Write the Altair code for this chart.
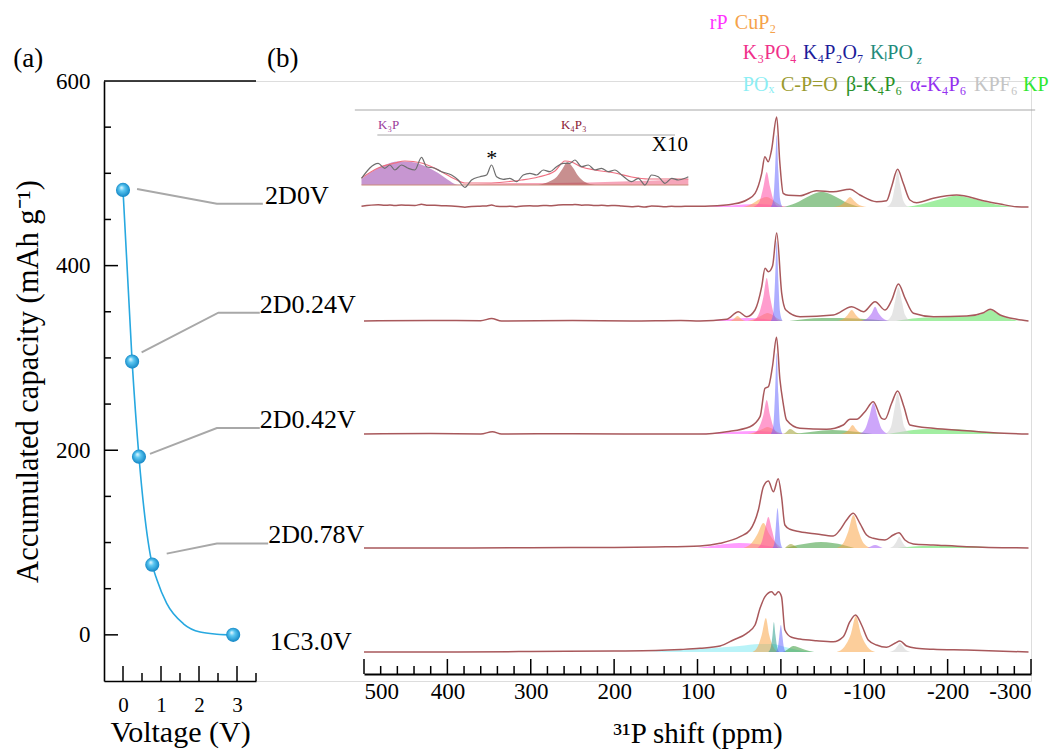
import altair as alt
import pandas as pd

FONT = "Liberation Serif"

# ---------------- panel (a): accumulated capacity vs voltage ----------------
point_voltage = [0.0, 0.24, 0.42, 0.77, 2.9]
point_capacity = [482, 296, 193, 76, 0]
curve_voltage = [0.0, 0.24, 0.42, 0.77, 0.89, 1.15, 1.59, 2.03, 2.47, 2.9]
curve_capacity = [482, 296, 193, 76, 60, 34, 12, 3, 0.7, 0]

sample_labels = ["2D0V", "2D0.24V", "2D0.42V", "2D0.78V", "1C3.0V"]
label_voltage = [3.74, 3.6, 3.6, 3.82, 3.87]
label_capacity = [467, 349, 224, 99, -16]

leader_voltage = [[0.37, 2.47, 3.68], [0.49, 2.51, 3.6], [0.71, 2.47, 3.6], [1.15, 2.47, 3.82]]
leader_capacity = [[483, 467, 467], [306, 349, 349], [196, 224, 224], [88, 99, 99]]

xa_major = [0, 1, 2, 3]
xa_minor = [0.5, 1.5, 2.5, 3.5]
ya_major = [0, 200, 400]
ya_minor = [50, 100, 150, 250, 300, 350, 450, 500, 550]

# ---------------- panel (b): 31P NMR spectra ----------------
spectrum_names = ["2D0V", "2D0.24V", "2D0.42V", "2D0.78V", "1C3.0V"]
spectrum_offset = [467, 353, 240, 126, 22]
inset_offset = 489

# X10 inset (2D0V, 500-110 ppm), experimental trace
inset_ppm = [503, 483, 475, 469, 463, 455, 447, 439, 431, 425, 415, 407, 395, 387, 379, 371,
             361, 353, 347, 341, 333, 325, 317, 309, 301, 293, 285, 277, 269, 261, 253, 247,
             239, 231, 223, 215, 207, 199, 191, 179, 171, 163, 155, 147, 139, 131, 123, 115, 111]
inset_int = [6.7, 21.7, 16.7, 20, 15, 20, 16.7, 15, 27.7, 18.3, 16.7, 13.3, 10, 5, -2.3, 5,
             8.3, 10, 20, 8.3, 5.7, 6.7, 3.3, 10, 11.7, 10, 15, 13.3, 18.3, 21.7, 21.7, 25,
             18.3, 20, 15, 16.7, 13.3, 15, 10, 3.3, 6.7, 0, 10, 8.3, 1.7, 6.7, 5, 6.7, 8.3]
# inset fit envelope
inset_fit_ppm = [503, 483, 463, 451, 431, 411, 391, 379, 351, 331, 311, 291, 271, 259, 251, 239,
                 223, 199, 179, 159, 131, 111]
inset_fit_int = [7, 17, 22, 24, 22, 15, 6, 2, 2, 3, 5, 8, 14, 24, 23, 18, 15, 12, 8, 6, 6, 6]

# main envelopes (ppm, intensity above baseline)
env_ppm = {
    "2D0V": [97, 85, 57, 41, 31, 23, 19.2, 15.2, 11.2, 5, 1.2, -2.8, -8.8, -22.8, -42.8, -62.8,
             -82.8, -94.8, -114.8, -126.8, -132.8, -140, -146.8, -154.8, -162.8, -182.8,
             -210.8, -242.8, -262.8, -282.8, -297],
    "2D0.24V": [500, 420, 360, 347, 335, 250, 180, 120, 97, 65, 51, 41, 31, 23, 19, 15, 10, 5,
                -1, -6, -23, -63, -85, -99, -113, -125, -133, -141, -149, -159, -183, -223,
                -243, -251, -263, -283, -297],
    "2D0.42V": [500, 420, 360, 346, 335, 250, 150, 97, 65, 37, 25, 19, 15, 10, 5.2, 1.2, -2.8,
                -6.8, -22.8, -54.8, -74.8, -82.8, -90.8, -100.8, -110.8, -120.8, -124.8,
                -132.8, -140, -147.6, -154.8, -182.8, -222.8, -254.8, -297],
    "2D0.78V": [500, 400, 300, 200, 150, 97, 73, 49, 37, 27, 21, 15, 9, 3.2, -0.8, -4.8,
                -10.8, -22.8, -42.8, -62.8, -70.8, -78.8, -86.8, -94.8, -102.8, -110.8,
                -124.8, -134.8, -141.6, -148.8, -158.8, -182.8, -222.8, -297],
    "1C3.0V": [500, 400, 300, 200, 150, 120, 97, 73, 57, 41, 31, 25, 19, 11, 7, 3, -0.8,
               -4.8, -12.8, -22.8, -42.8, -62.8, -74.8, -82.8, -89.6, -96.8, -104.8, -114.8,
               -126.8, -136.8, -142.8, -150.8, -162.8, -182.8, -222.8, -297],
}
env_int = {
    "2D0V": [0.8, 1, 3, 7, 13.7, 33.7, 50.3, 45.3, 57, 90, 43.7, 13.7, 11.7, 11.3, 16.3, 15.3,
             17.7, 12, 5.3, 6.3, 20.3, 37.7, 23.7, 7, 4.3, 8.7, 12, 6.3, 3, 0.3, 0],
    "2D0.24V": [0, 0.5, 0.3, 2.5, 0, 0.5, 0, 0.5, 0, 1.7, 9.3, 4.3, 11, 34.3, 52.7, 49.3, 55,
                88, 27.7, 11, 4.3, 6, 14.3, 9.3, 19.3, 11, 21, 37, 22.7, 7.7, 4.3, 5, 8.3,
                11.7, 6, 1.7, 0],
    "2D0.42V": [0, 0.4, 0, 2.3, 0, 0.3, 0, 0, 2.3, 7.3, 17.3, 45.7, 47.3, 68, 96.7, 55, 30.7,
                14, 5.7, 4.7, 9, 14.7, 14.7, 22.3, 32.3, 15.7, 14.7, 30.7, 43, 27.3, 9, 5.7,
                3.3, 1.3, 0],
    "2D0.78V": [0, 0, 0.3, 0.5, 1, 2, 4.7, 11.3, 18, 38, 61.3, 67, 56.3, 69.3, 51.3, 23, 18.7,
                16.3, 14, 12, 18, 28, 34.7, 24.7, 13, 9.7, 8, 13, 15.3, 8, 4, 3, 1.3, 0],
    "1C3.0V": [0, 0, 0.5, 1, 1.5, 2.5, 3.7, 6, 12, 18.7, 27, 43.7, 55.3, 60.3, 57, 60.3, 55.3,
               22, 14.7, 13, 11.3, 10.3, 15.3, 30.3, 37, 27, 12, 7, 4.7, 8.7, 11, 6, 3.7,
               2.7, 2, 0],
}

# fitted components: (spectrum, species, ppm list, intensity list)
components = [
    ("2D0V", "rP", [100, 60, 30, 10, -10], [0, 1.5, 3, 2, 0]),
    ("2D0V", "CuP2", [45, 35, 25, 17, 10, 3, -5], [0, 3, 8, 10, 7, 3, 0]),
    ("2D0V", "beta", [-3, -18, -34, -49, -64, -80, -95], [0, 4, 11, 15.3, 11, 4, 0]),
    ("2D0V", "CuP2", [-63, -72, -78, -83, -88, -94, -103], [0, 2, 6, 10, 6, 2, 0]),
    ("2D0V", "KP", [-150, -170, -192, -211, -232, -255, -280], [0, 3, 8, 11.3, 8, 3, 0]),
    ("2D0V", "K3PO4", [33, 26, 21, 17, 13, 8, 3], [0, 5, 20, 35, 20, 5, 0]),
    ("2D0V", "K4P2O7", [12, 9, 7, 5, 3, 1, -2], [0, 8, 36, 72, 36, 8, 0]),
    ("2D0V", "KPF6", [-127, -133, -137, -140, -143, -147, -153], [0, 6, 22, 36, 22, 6, 0]),

    ("2D0.24V", "rP", [100, 70, 40, 20, 0], [0, 1.5, 3, 2, 0]),
    ("2D0.24V", "CuP2", [62, 57, 54, 52, 50, 47, 42], [0, 1.5, 4, 5, 4, 1.5, 0]),
    ("2D0.24V", "CuP2", [40, 30, 22, 16, 10, 4, -2], [0, 2.5, 6, 8, 6, 2.5, 0]),
    ("2D0.24V", "beta", [-10, -30, -50, -70, -90, -110, -130], [0, 2, 3, 3, 2.5, 1.5, 0]),
    ("2D0.24V", "KP", [-138, -165, -200, -230, -244, -251, -258, -268, -285],
     [0, 3, 4, 5, 8, 11, 8, 4, 0]),
    ("2D0.24V", "CuP2", [-68, -75, -80, -85, -90, -95, -102], [0, 2, 6, 11, 6, 2, 0]),
    ("2D0.24V", "alpha", [-96, -104, -109, -113, -117, -122, -130], [0, 3, 8, 14.3, 8, 3, 0]),
    ("2D0.24V", "K3PO4", [34, 27, 21, 17, 13, 8, 3], [0, 6, 24, 43, 24, 6, 0]),
    ("2D0.24V", "K4P2O7", [12, 9, 7, 5, 3, 1, -2], [0, 9, 40, 80, 40, 9, 0]),
    ("2D0.24V", "KPF6", [-126, -133, -137, -141, -145, -149, -156], [0, 6, 20, 34, 20, 6, 0]),

    ("2D0.42V", "rP", [100, 60, 30, 10, -5], [0, 2, 3, 2, 0]),
    ("2D0.42V", "CuP2", [40, 30, 22, 16, 10, 4, -2], [0, 2, 5, 7, 5, 2, 0]),
    ("2D0.42V", "beta", [-15, -35, -50, -62, -75, -92, -110], [0, 2, 3.5, 4, 3.5, 2, 0]),
    ("2D0.42V", "KP", [-128, -150, -175, -205, -235, -260, -280], [0, 3, 5, 5, 3, 1, 0]),
    ("2D0.42V", "CPO", [-2, -6, -9, -11, -14, -18, -24], [0, 1.5, 4, 5, 4, 1.5, 0]),
    ("2D0.42V", "CuP2", [-72, -78, -82, -86, -90, -94, -100], [0, 2, 5, 9, 5, 2, 0]),
    ("2D0.42V", "alpha", [-94, -101, -106, -111, -116, -121, -129], [0, 5, 17, 31, 17, 5, 0]),
    ("2D0.42V", "K3PO4", [33, 27, 21, 17, 13, 8, 3], [0, 5, 19, 34, 19, 5, 0]),
    ("2D0.42V", "K4P2O7", [12, 9, 7, 5, 3, 1, -2], [0, 9, 40, 81, 40, 9, 0]),
    ("2D0.42V", "KPF6", [-125, -132, -136, -140, -144, -148, -156], [0, 7, 24, 41, 24, 7, 0]),

    ("2D0.78V", "rP", [100, 75, 50, 30, 15, 0], [0, 3, 5, 4, 2, 0]),
    ("2D0.78V", "beta", [-5, -20, -35, -48, -62, -75, -88], [0, 3, 5, 6, 5, 3, 0]),
    ("2D0.78V", "KP", [-140, -170, -210, -250, -280], [0, 2, 2, 1, 0]),
    ("2D0.78V", "CPO", [-5, -9, -12, -15, -20], [0, 3, 4, 3, 0]),
    ("2D0.78V", "CuP2", [45, 35, 28, 21, 14, 6, -1], [0, 5, 14, 25, 14, 5, 0]),
    ("2D0.78V", "K3PO4", [28, 23, 19, 15, 11, 7, 3], [0, 6, 19, 31, 19, 6, 0]),
    ("2D0.78V", "K4P2O7", [10, 7.5, 6, 4, 2, 0.5, -2], [0, 6, 22, 40, 22, 6, 0]),
    ("2D0.78V", "CuP2", [-67, -75, -81, -87, -93, -99, -108], [0, 5, 17, 33, 17, 5, 0]),
    ("2D0.78V", "alpha", [-104, -109, -113, -117, -122], [0, 2, 3, 2, 0]),
    ("2D0.78V", "KPF6", [-130, -135, -139, -142, -145, -149, -155], [0, 2, 7, 11.3, 7, 2, 0]),

    ("1C3.0V", "POx", [160, 120, 80, 50, 25, 10, -5, -20, -40], [0, 2, 4, 6, 8, 8, 5, 2, 0]),
    ("1C3.0V", "beta", [-2, -8, -12, -15, -20, -28, -40], [0, 2.5, 5, 6, 5, 2.5, 0]),
    ("1C3.0V", "CuP2", [34, 28, 23, 18, 14, 9, 3], [0, 5, 17, 34, 17, 5, 0]),
    ("1C3.0V", "KlPOz", [15, 12, 10, 8.4, 6.5, 4.5, 2], [0, 5, 17, 30, 17, 5, 0]),
    ("1C3.0V", "K4P2O7", [6, 3.5, 2, 0, -2, -3.5, -6], [0, 5, 15, 27, 15, 5, 0]),
    ("1C3.0V", "CuP2", [-67, -76, -84, -90, -96, -104, -113], [0, 5, 18, 36, 18, 5, 0]),
    ("1C3.0V", "KPF6", [-130, -136, -140, -143, -146, -150, -156], [0, 2, 6, 9, 6, 2, 0]),

    ("inset", "pinkbase", [391, 351, 311, 271, 231, 191, 151, 111], [0, 1.5, 2, 2, 2.5, 3.5, 4.5, 6]),
    ("inset", "K3P", [503, 491, 475, 459, 443, 427, 411, 399, 391, 385],
     [6, 13, 20, 23.5, 23, 19, 12, 5, 1, 0]),
    ("inset", "K4P3", [291, 279, 269, 262, 256, 250, 243, 235, 223], [0, 3, 8, 16, 23, 18, 9, 3, 0]),
]

xb_major = [500, 400, 300, 200, 100, 0, -100, -200, -300]
xb_minor = [v for v in range(-280, 500, 20) if v % 100 != 0]

# legend words above the spectra: text, ppm position, height above axis
legend_text = ["rP", "CuP\u2082",
               "K\u2083PO\u2084", "K\u2084P\u2082O\u2087", "K\u2097PO",
               "PO\u2093", "C-P=O", "\u03b2-K\u2084P\u2086", "\u03b1-K\u2084P\u2086", "KPF\u2086", "KP"]
legend_ppm = [85.2, 55.2, 45.6, -26.4, -106.8, 45.6, 0, -78, -154.8, -231.6, -290.4]
legend_val = [651, 651, 621, 621, 621, 589, 589, 589, 589, 589, 589]
legend_species = ["rP", "CuP2", "K3PO4", "K4P2O7", "KlPOz", "POx", "CPO", "beta", "alpha", "KPF6", "KP"]

# ---------------- styles ----------------
TEXT_COLOR = {"rP": "#ff33ff", "CuP2": "#f5a24a", "K3PO4": "#f0308a", "K4P2O7": "#1c1c9a",
              "KlPOz": "#1f8c7c", "POx": "#8ceef4", "CPO": "#9a9a2e", "beta": "#2a922a",
              "alpha": "#9430f0", "KPF6": "#c4c4c4", "KP": "#30e830"}
FILL = {"rP": "#ff4dff", "CuP2": "#f9a648", "K3PO4": "#ff4da6", "K4P2O7": "#6b6bff",
        "KlPOz": "#2e9e8e", "POx": "#7fe9f2", "CPO": "#9e9e30", "beta": "#3a9a3a",
        "alpha": "#a45cf5", "KPF6": "#cfcfcf", "KP": "#55e055", "K3P": "#a455b4",
        "K4P3": "#a64a4a", "pinkbase": "#f07090"}

XA_SCALE = alt.Scale(domain=[-0.5, 3.5], range=[0, 152], nice=False, zero=False)
YA_SCALE = alt.Scale(domain=[-50, 600], nice=False, zero=False)
XB_SCALE = alt.Scale(domain=[-300, 500], reverse=True, range=[260, 927], nice=False, zero=False)
YB_SCALE = alt.Scale(domain=[-7, 593], nice=False, zero=False)

XA_AXIS = alt.Axis(orient="bottom", values=xa_major, ticks=False, grid=False, domainColor="black",
                   domainWidth=1.6, labelFont=FONT, labelFontSize=21, labelColor="black",
                   labelPadding=13, title="Voltage (V)", titleFont=FONT, titleFontSize=30,
                   titleFontWeight="normal", titleColor="black", titleY=60,
                   titleBaseline="alphabetic")
YA_AXIS = alt.Axis(orient="left", values=[0, 200, 400, 600], ticks=False, grid=False,
                   domainColor="black", domainWidth=1.6, labelFont=FONT, labelFontSize=23,
                   labelColor="black", labelPadding=14,
                   title="Accumulated capacity (mAh g\u207b\u00b9)", titleFont=FONT,
                   titleFontSize=30.5, titleFontWeight="normal", titleColor="black",
                   titleX=-67, titleY=300, titleAlign="center", titleBaseline="alphabetic")
XB_AXIS = alt.Axis(orient="bottom", values=xb_major, ticks=False, grid=False, offset=-7,
                   domainColor="black", domainWidth=2, labelFont=FONT, labelFontSize=23,
                   labelColor="black", labelPadding=6, labelExpr="'' + datum.value",
                   title="\u00b3\u00b9P shift (ppm)", titleFont=FONT, titleFontSize=29,
                   titleFontWeight="normal", titleColor="black", titleY=68,
                   titleBaseline="alphabetic")


def xa(f):
    return alt.X(f"{f}:Q", scale=XA_SCALE, axis=XA_AXIS)


def ya(f):
    return alt.Y(f"{f}:Q", scale=YA_SCALE, axis=YA_AXIS)


def xb(f):
    return alt.X(f"{f}:Q", scale=XB_SCALE, axis=XB_AXIS)


def yb(f):
    return alt.Y(f"{f}:Q", scale=YB_SCALE, axis=None, stack=None)


# ---------------- tables ----------------
df_curve = pd.DataFrame({"v": curve_voltage, "c": curve_capacity})
df_pts = pd.DataFrame({"v": point_voltage, "c": point_capacity})
df_lab = pd.DataFrame({"v": label_voltage, "c": label_capacity, "t": sample_labels})
lead_rows = []
for i, (vs, cs) in enumerate(zip(leader_voltage, leader_capacity)):
    for v, c in zip(vs, cs):
        lead_rows.append({"lid": i, "v": v, "c": c})
df_lead = pd.DataFrame(lead_rows)
df_top = pd.DataFrame({"x": [-0.5], "x2": [3.5], "y": [600]})
df_panel = pd.DataFrame({"v": [-2.89, 3.79], "c": [615.7, 615.7], "t": ["(a)", "(b)"]})

offset_of = dict(zip(spectrum_names, spectrum_offset))
offset_of["inset"] = inset_offset

comp_rows = []
for i, (spec, sp, xs, ys) in enumerate(components):
    base = offset_of[spec]
    for x, y in zip(xs, ys):
        comp_rows.append({"cid": i, "ppm": x, "y": base + y, "y0": base, "fill": FILL[sp],
                          "op": 0.62 if spec == "inset" else 0.55})
df_comp = pd.DataFrame(comp_rows)

env_rows = []
for name in spectrum_names:
    base = offset_of[name]
    xs = list(env_ppm[name])
    ys = list(env_int[name])
    if name == "2D0V":
        # the X10 inset shows this same stretch of the 2D0V trace magnified ten times
        xs = inset_ppm + xs
        ys = [v / 10 for v in inset_int] + ys
    for x, y in zip(xs, ys):
        env_rows.append({"spec": name, "ppm": x, "y": base + y})
df_env = pd.DataFrame(env_rows)

df_inset = pd.DataFrame({"ppm": inset_ppm, "y": [inset_offset + v for v in inset_int]})
df_inset_fit = pd.DataFrame({"ppm": inset_fit_ppm, "y": [inset_offset + v for v in inset_fit_int]})
df_inset_base = pd.DataFrame({"x": [503], "x2": [111], "y": [inset_offset]})
df_gray = pd.DataFrame({"x": [511, 484], "x2": [-305, 127], "y": [564, 539]})

df_leg = pd.DataFrame({"t": legend_text, "ppm": legend_ppm, "y": legend_val,
                       "col": [TEXT_COLOR[s] for s in legend_species]})
df_legz = pd.DataFrame({"t": ["z"], "ppm": [-163], "y": [614], "col": [TEXT_COLOR["KlPOz"]]})
df_inset_lab = pd.DataFrame({"t": ["K\u2083P", "K\u2084P\u2083"], "ppm": [470.4, 248.4],
                             "y": [549, 549], "col": ["#9a3a9a", "#8b2035"]})
df_x10 = pd.DataFrame({"t": ["X10"], "ppm": [154.8], "y": [529]})
df_star = pd.DataFrame({"t": ["*"], "ppm": [346.8], "y": [516]})

# ---------------- panel (a) layers ----------------
GRAD = {"gradient": "radial", "x1": 0.38, "y1": 0.32, "r1": 0.0, "x2": 0.5, "y2": 0.5, "r2": 0.55,
        "stops": [{"offset": 0.0, "color": "#f2fbff"}, {"offset": 0.35, "color": "#5cc8f2"},
                  {"offset": 1.0, "color": "#0b7fc0"}]}

a_curve = alt.Chart(df_curve).mark_line(color="#27a8e0", strokeWidth=1.6,
                                        interpolate="monotone").encode(x=xa("v"), y=ya("c"))
a_lead = alt.Chart(df_lead).mark_line(color="#a8a8a8", strokeWidth=2).encode(
    x=xa("v"), y=ya("c"), detail="lid:N")
a_pts = alt.Chart(df_pts).mark_circle(size=200, opacity=1, color=GRAD).encode(x=xa("v"), y=ya("c"))
a_lab = alt.Chart(df_lab).mark_text(align="left", baseline="alphabetic", font=FONT, fontSize=26,
                                    color="black").encode(x=xa("v"), y=ya("c"), text="t:N")
a_panel = alt.Chart(df_panel).mark_text(align="left", baseline="alphabetic", font=FONT,
                                        fontSize=27, color="black").encode(
    x=xa("v"), y=ya("c"), text="t:N")
a_top = alt.Chart(df_top).mark_rule(color="black", strokeWidth=1.6).encode(
    x=xa("x"), x2="x2:Q", y=ya("y"))
a_xt1 = alt.Chart(pd.DataFrame({"t": xa_major})).mark_rule(color="black", strokeWidth=1.5).encode(
    x=xa("t"), y=alt.value(600), y2=alt.value(585))
a_xt2 = alt.Chart(pd.DataFrame({"t": xa_minor})).mark_rule(color="black", strokeWidth=1.5).encode(
    x=xa("t"), y=alt.value(600), y2=alt.value(592))
a_yt1 = alt.Chart(pd.DataFrame({"t": ya_major})).mark_rule(color="black", strokeWidth=1.5).encode(
    y=ya("t"), x=alt.value(0), x2=alt.value(14))
a_yt2 = alt.Chart(pd.DataFrame({"t": ya_minor})).mark_rule(color="black", strokeWidth=1.5).encode(
    y=ya("t"), x=alt.value(0), x2=alt.value(7))

panel_a = alt.layer(a_top, a_xt1, a_xt2, a_yt1, a_yt2, a_lead, a_curve, a_pts, a_lab, a_panel)

# ---------------- panel (b) layers ----------------
b_gray = alt.Chart(df_gray).mark_rule(color="#a8a8a8", strokeWidth=1.2).encode(
    x=xb("x"), x2="x2:Q", y=yb("y"))
b_area = alt.Chart(df_comp).mark_area(interpolate="monotone").encode(
    x=xb("ppm"), y=yb("y"), y2="y0:Q", color=alt.Color("fill:N", scale=None),
    opacity=alt.Opacity("op:Q", scale=None), detail="cid:N")
b_env = alt.Chart(df_env).mark_line(color="#a8585b", strokeWidth=1.5, interpolate="monotone").encode(
    x=xb("ppm"), y=yb("y"), detail="spec:N")
b_ibase = alt.Chart(df_inset_base).mark_rule(color="#c98a78", strokeWidth=1).encode(
    x=xb("x"), x2="x2:Q", y=yb("y"))
b_ifit = alt.Chart(df_inset_fit).mark_line(color="#ee6f80", strokeWidth=1.2,
                                           interpolate="monotone").encode(x=xb("ppm"), y=yb("y"))
b_inset = alt.Chart(df_inset).mark_line(color="#6e6e6e", strokeWidth=1.2,
                                        interpolate="monotone").encode(x=xb("ppm"), y=yb("y"))
b_leg = alt.Chart(df_leg).mark_text(align="left", baseline="middle", font=FONT, fontSize=20).encode(
    x=xb("ppm"), y=yb("y"), text="t:N", color=alt.Color("col:N", scale=None))
b_legz = alt.Chart(df_legz).mark_text(align="left", baseline="middle", font=FONT, fontSize=13,
                                      fontStyle="italic").encode(
    x=xb("ppm"), y=yb("y"), text="t:N", color=alt.Color("col:N", scale=None))
b_ilab = alt.Chart(df_inset_lab).mark_text(align="center", baseline="middle", font=FONT,
                                           fontSize=13).encode(
    x=xb("ppm"), y=yb("y"), text="t:N", color=alt.Color("col:N", scale=None))
b_x10 = alt.Chart(df_x10).mark_text(align="left", baseline="middle", font=FONT, fontSize=21,
                                    color="black").encode(x=xb("ppm"), y=yb("y"), text="t:N")
b_star = alt.Chart(df_star).mark_text(align="center", baseline="middle", font=FONT, fontSize=22,
                                      color="black").encode(x=xb("ppm"), y=yb("y"), text="t:N")
b_xt1 = alt.Chart(pd.DataFrame({"t": xb_major})).mark_rule(color="black", strokeWidth=1.5).encode(
    x=xb("t"), y=alt.value(593), y2=alt.value(578))
b_xt2 = alt.Chart(pd.DataFrame({"t": xb_minor})).mark_rule(color="black", strokeWidth=1.5).encode(
    x=xb("t"), y=alt.value(593), y2=alt.value(585))

panel_b = alt.layer(b_gray, b_xt1, b_xt2, b_area, b_ibase, b_env, b_ifit, b_inset,
                    b_leg, b_legz, b_ilab, b_x10, b_star)

chart = alt.layer(panel_a, panel_b).resolve_scale(
    x="independent", y="independent").resolve_axis(x="independent", y="independent").properties(
    width=927, height=600, autosize="none",
    padding={"left": 104, "top": 81, "right": 24, "bottom": 68},
).configure_view(stroke=None).configure(background="white")

chart.save("out.html", embed_options={"renderer": "svg", "actions": False})
